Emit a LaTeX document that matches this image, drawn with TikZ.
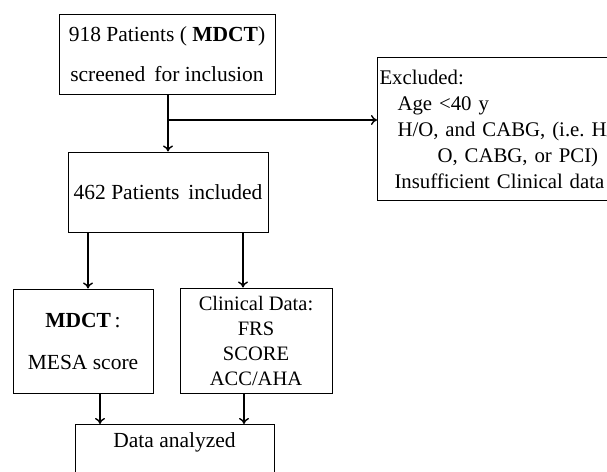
\documentclass[tikz,border=0pt]{standalone}
\usepackage{fontspec}
\setmainfont{Liberation Serif}
\usetikzlibrary{arrows.meta}
\frenchspacing

\begin{document}
\begin{tikzpicture}[x=1pt,y=-1pt,
  box/.style={draw,line width=1pt,inner sep=2pt,font=\fontsize{21.5}{26}\selectfont},
  arr/.style={line width=1.4pt,-{To[length=6pt,width=10pt,line width=1.4pt]}}]
 \useasboundingbox (0,0) rectangle (607,471);
 \clip (0,0) rectangle (607,471);
 \node[box,minimum width=216pt,minimum height=80pt,align=center] (screen) at (167,54)
   {918 Patients ( \textbf{MDCT})\\[14pt]screened\, for inclusion};
 \node[box,minimum width=200pt,minimum height=80pt] (incl) at (168,192)
   {462 Patients\, included};
 \node[box,anchor=north west,text width=300pt,minimum height=143pt,align=left,font=\fontsize{20.8}{26}\selectfont] (excl) at (377,57)
   {Excluded:\\
    \hspace*{18pt}Age <40 y\\
    \hspace*{18pt}H/O, and CABG, (i.e.\ H/\\
    \hspace*{58pt}O, CABG, or PCI)\\
    \hspace*{15pt}Insufficient Clinical data};
 \node[box,minimum width=140pt,minimum height=104pt,align=center] (mdct) at (83,341)
   {\textbf{MDCT}\,:\\[16pt]MESA score};
 \node[box,minimum width=152pt,minimum height=105pt,align=center,font=\fontsize{20.5}{25}\selectfont] (clin) at (256,340.5)
   {Clinical Data:\\FRS\\SCORE\\ACC/AHA};
 \node[box,anchor=north,minimum width=199pt,inner ysep=8pt,text depth=50pt] (anal) at (174.5,424)
   {Data analyzed};
 \coordinate (br) at (168,120);
 \draw[arr] (screen.south -| incl) -- (incl.north);
 \draw[arr] (br) -- (br -| excl.west);
 \draw[arr] (88,0 |- incl.south) -- (88,0 |- mdct.north);
 \draw[arr] (243,0 |- incl.south) -- (243,0 |- clin.north);
 \draw[arr] (100,0 |- mdct.south) -- (100,0 |- anal.north);
 \draw[arr] (244,0 |- clin.south) -- (244,0 |- anal.north);
\end{tikzpicture}
\end{document}
